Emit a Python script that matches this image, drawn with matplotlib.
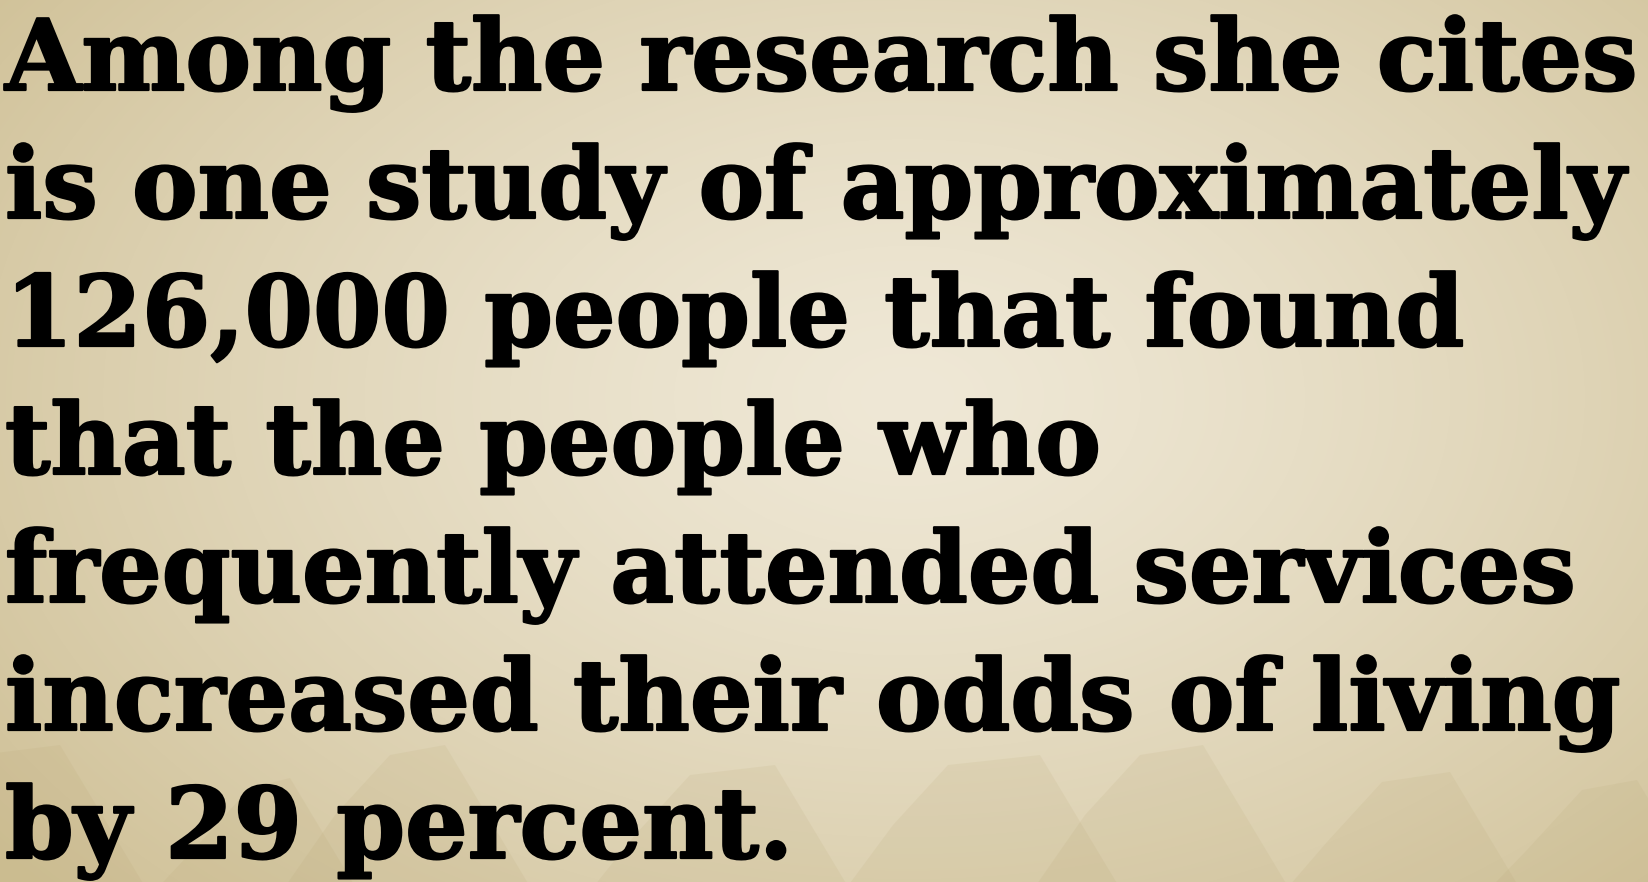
import matplotlib.pyplot as plt
import matplotlib.patheffects as pe
import numpy as np

# text lines of the slide
lines = [
    "Among the research she cites",
    "is one study of approximately",
    "126,000 people that found",
    "that the people who",
    "frequently attended services",
    "increased their odds of living",
    "by 29 percent.",
]

W, H = 1649, 882
fig = plt.figure(figsize=(W / 100, H / 100), dpi=100)
ax = fig.add_axes([0, 0, 1, 1])
ax.set_xlim(0, W)
ax.set_ylim(H, 0)
ax.axis("off")

# parchment background: lighter in the middle, darker to the edges
yy, xx = np.mgrid[0:H, 0:W]
r = np.sqrt(((xx - W * 0.55) / (W * 0.7)) ** 2 + ((yy - H * 0.45) / (H * 0.85)) ** 2)
r = np.clip(r, 0, 1) ** 1.3
light = np.array([239, 232, 214]) / 255
dark = np.array([207, 192, 150]) / 255
bg = light[None, None, :] * (1 - r[..., None]) + dark[None, None, :] * r[..., None]
ax.imshow(bg, extent=[0, W, H, 0], zorder=0)

# faint pencil-like shapes rising from the bottom edge
shapes = [(-20, 745, 80), (250, 778, 40), (390, 745, 55), (690, 765, 85),
          (948, 755, 92), (1140, 745, 63), (1382, 772, 68), (1582, 780, 55)]
for x0, ytop, wtop in shapes:
    pts = [(x0 - 40 - (H - ytop) * 0.45, H), (x0 - 55, ytop + 70), (x0, ytop + 10),
           (x0 + wtop, ytop), (x0 + wtop + (H - ytop) * 0.6, H)]
    ax.add_patch(plt.Polygon(pts, closed=True, color="#b09d68", alpha=0.11,
                             lw=0, zorder=1))

# size the text so the widest line spans the slide
fs = 70
probe = ax.text(0, 0, lines[1], fontsize=fs, fontweight="bold", family="DejaVu Serif")
fig.canvas.draw()
wpx = probe.get_window_extent().width
probe.remove()
fs = fs * 1622 / wpx

y0 = 90
step = 128
for i, t in enumerate(lines):
    ax.text(5, y0 + i * step, t, fontsize=fs, fontweight="bold",
            family="DejaVu Serif", color="black", va="baseline", ha="left", zorder=3,
            path_effects=[pe.withStroke(linewidth=1.6, foreground="black")])

fig.savefig("out.png", dpi=100)
